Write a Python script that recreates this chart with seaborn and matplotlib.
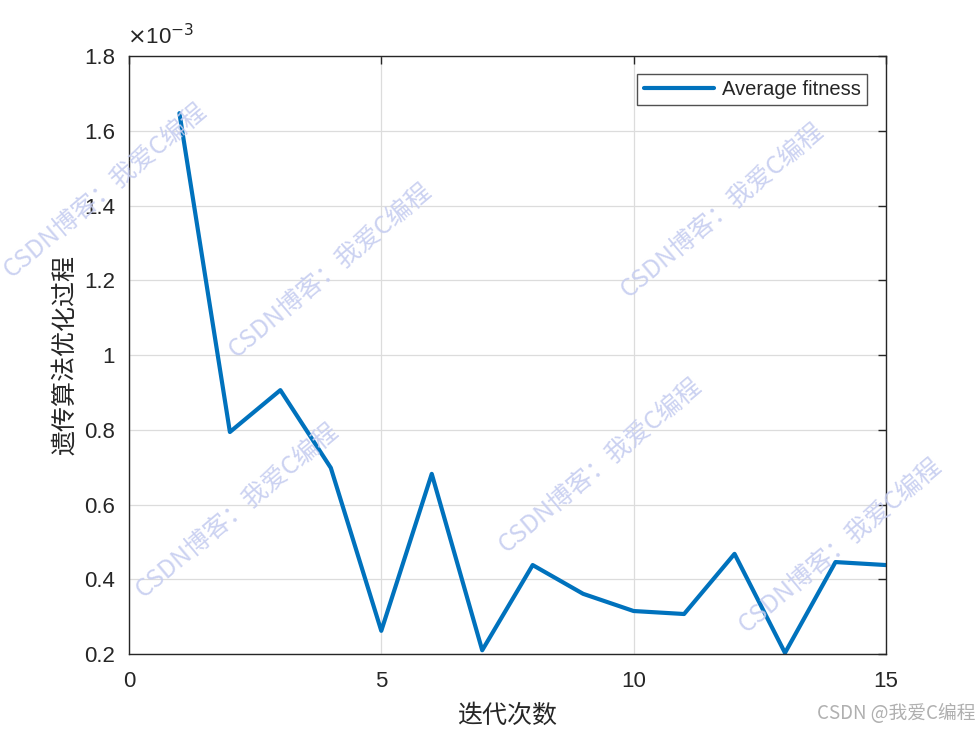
import matplotlib
matplotlib.use("Agg")
import matplotlib.pyplot as plt
import seaborn as sns
import pandas as pd

iterations = [1, 2, 3, 4, 5, 6, 7, 8, 9, 10, 11, 12, 13, 14, 15]
avg_fitness_e3 = [1.647, 0.794, 0.906, 0.698, 0.262, 0.682, 0.210, 0.438,
                  0.361, 0.315, 0.307, 0.468, 0.203, 0.446, 0.438]
x_ticks = [0, 5, 10, 15]
y_ticks = [0.2, 0.4, 0.6, 0.8, 1.0, 1.2, 1.4, 1.6, 1.8]
y_tick_labels = ["0.2", "0.4", "0.6", "0.8", "1", "1.2", "1.4", "1.6", "1.8"]
series_name = "Average fitness"
x_label = "迭代次数"
y_label = "遗传算法优化过程"
watermark = "CSDN博客：我爱C编程"
footer = "CSDN @我爱C编程"

sns.set_style("white")
plt.rcParams['font.family'] = ['Liberation Sans', 'Noto Sans CJK SC']

df = pd.DataFrame({"iter": iterations, "fit": avg_fitness_e3, "s": series_name})

fig = plt.figure(figsize=(9.8, 7.35), dpi=100)
ax = fig.add_axes([0.1316, 0.1102, 0.904 - 0.1316, 0.9238 - 0.1102])
sns.lineplot(data=df, x="iter", y="fit", hue="s", palette=["#0072BD"],
             linewidth=3.0, ax=ax, legend=True)

ax.set_xlim(0, 15)
ax.set_ylim(0.2, 1.8)
ax.set_xticks(x_ticks)
ax.set_yticks(y_ticks)
ax.set_yticklabels(y_tick_labels)
ax.grid(True, color="#dcdcdc", linewidth=0.9)
ax.set_axisbelow(True)
for sp in ax.spines.values():
    sp.set_color("#262626")
    sp.set_linewidth(1.0)
ax.tick_params(direction="in", length=6, width=1.0, top=True, right=True,
               labelsize=16, colors="#262626")
ax.tick_params(axis="x", pad=12)
ax.tick_params(axis="y", pad=10)
ax.set_xlabel(x_label, fontsize=18, family=['Noto Sans CJK SC'], color="#262626", labelpad=8)
ax.set_ylabel(y_label, fontsize=18, family=['Noto Sans CJK SC'], color="#262626", labelpad=4)

leg = ax.legend(loc="upper right", fontsize=14.5, frameon=True, fancybox=False,
                edgecolor="#262626", handlelength=3.5, handletextpad=0.4,
                borderpad=0.3, borderaxespad=0,
                bbox_to_anchor=(0.975, 0.970))
leg.get_frame().set_linewidth(1.0)
for line in leg.get_lines():
    line.set_linewidth(3.0)

fig.text(0.1296, 0.933, r"$\times$10$^{-3}$", fontsize=16, color="#262626",
         ha="left", va="bottom")

wm_centers = [(105, 190), (330, 270), (237, 510), (600, 465), (722, 210), (840, 545)]
for (px, py) in wm_centers:
    fig.text(px / 980, 1 - py / 735, watermark, fontsize=18, rotation=40,
             color="#c6cdf0", alpha=0.9, ha="center", va="center",
             family=['Noto Sans CJK SC', 'DejaVu Sans'], zorder=10)

fig.text(0.995, 0.015, footer, fontsize=13.5, color="#b0b0b0", ha="right", va="bottom",
         family=['Noto Sans CJK SC', 'DejaVu Sans'])

fig.savefig("out.png", dpi=100, facecolor="white")
